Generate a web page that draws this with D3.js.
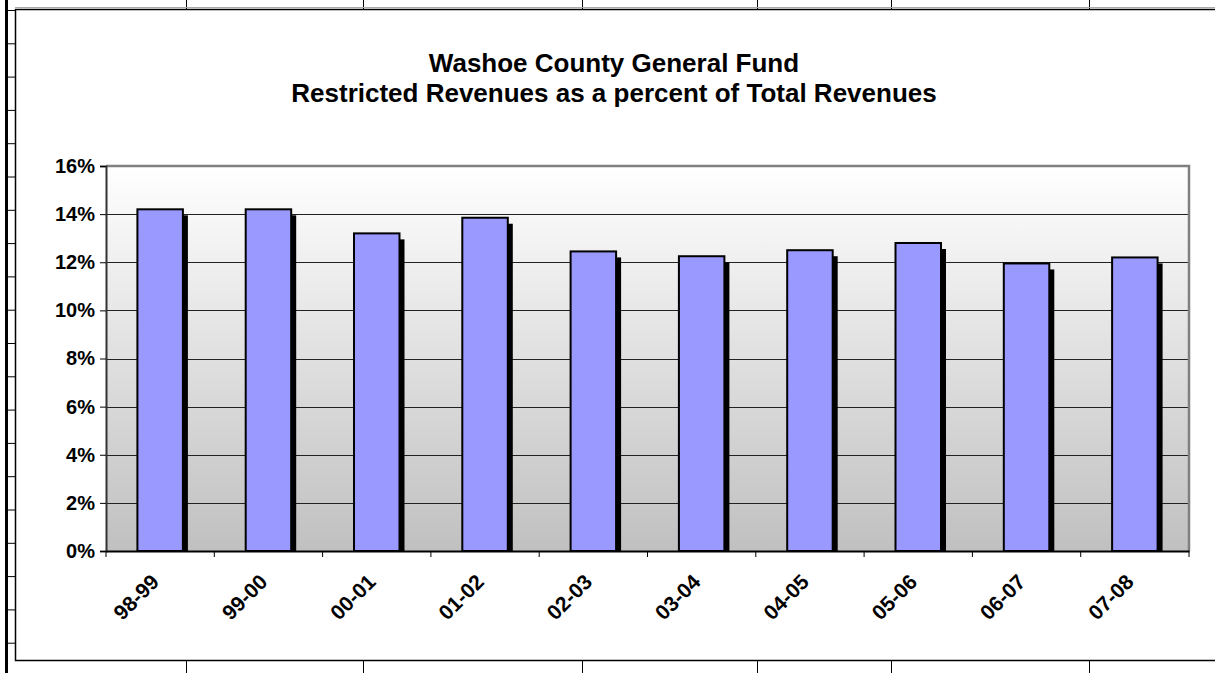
<!DOCTYPE html>
<html>
<head>
<meta charset="utf-8">
<script src="https://cdn.jsdelivr.net/npm/d3@7"></script>
<style>
  body { margin: 0; background: #fff; }
  svg { display: block; font-family: "Liberation Sans", Arial, sans-serif; }
</style>
</head>
<body>
<script>
const categories = ["98-99","99-00","00-01","01-02","02-03","03-04","04-05","05-06","06-07","07-08"]
const values = [14.2, 14.2, 13.2, 13.85, 12.45, 12.25, 12.5, 12.8, 11.95, 12.2]
const yTicks = [0, 2, 4, 6, 8, 10, 12, 14, 16]
const titleLines = ["Washoe County General Fund", "Restricted Revenues as a percent of Total Revenues"]
// spreadsheet column lines peeking above / below the chart object
const sheetCols = [186, 363, 582, 757, 891, 1089]

const W = 1215, H = 673
const plot = {left: 106, top: 166, right: 1189, bottom: 551}

const svg = d3.select("body").append("svg").attr("width", W).attr("height", H)

// --- sheet decorations
const sheet = svg.append("g")
sheet.append("line").attr("x1", 6.5).attr("x2", 6.5).attr("y1", 0).attr("y2", H)
    .attr("stroke", "#000").attr("stroke-width", 3)
sheet.selectAll(".row").data(d3.range(0, 20)).join("line")
    .attr("x1", 8).attr("x2", 15)
    .attr("y1", d => 10.5 + d * 33.3).attr("y2", d => 10.5 + d * 33.3)
    .attr("stroke", "#000")
sheet.selectAll(".colTop").data(sheetCols).join("line")
    .attr("x1", d => d + 0.5).attr("x2", d => d + 0.5).attr("y1", 0).attr("y2", 9)
    .attr("stroke", "#000")
sheet.selectAll(".colBot").data(sheetCols).join("line")
    .attr("x1", d => d + 0.5).attr("x2", d => d + 0.5).attr("y1", 661).attr("y2", H)
    .attr("stroke", "#000")
sheet.append("line").attr("x1", 15).attr("x2", W).attr("y1", 7.5).attr("y2", 7.5)
    .attr("stroke", "#aaa")

// chart object frame
svg.append("rect").attr("x", 15.5).attr("y", 9.5).attr("width", W + 10).attr("height", 651)
    .attr("fill", "#fff").attr("stroke", "#000").attr("stroke-width", 1.5)

// --- title
svg.append("g").selectAll("text").data(titleLines).join("text")
    .attr("x", 614).attr("y", (d, i) => 72 + i * 30)
    .attr("text-anchor", "middle")
    .attr("font-size", 26).attr("font-weight", "bold")
    .text(d => d)

// --- scales
const x = d3.scaleBand().domain(categories).range([plot.left, plot.right])
const y = d3.scaleLinear().domain([0, 16]).range([plot.bottom, plot.top])

// background gradient
const grad = svg.append("defs").append("linearGradient").attr("id", "bg")
    .attr("x1", 0).attr("x2", 0).attr("y1", 0).attr("y2", 1)
grad.append("stop").attr("offset", "0%").attr("stop-color", "#ffffff")
grad.append("stop").attr("offset", "100%").attr("stop-color", "#c0c0c0")

svg.append("rect").attr("x", plot.left).attr("y", plot.top)
    .attr("width", plot.right - plot.left).attr("height", plot.bottom - plot.top)
    .attr("fill", "url(#bg)")

// gridlines
svg.append("g").selectAll("line").data(yTicks.slice(1)).join("line")
    .attr("x1", plot.left).attr("x2", plot.right)
    .attr("y1", d => Math.round(y(d)) + 0.5).attr("y2", d => Math.round(y(d)) + 0.5)
    .attr("stroke", "#222").attr("stroke-width", 1)

// plot border (top/right gray)
svg.append("path")
    .attr("d", `M${plot.left},${plot.top}H${plot.right}V${plot.bottom}`)
    .attr("fill", "none").attr("stroke", "#808080").attr("stroke-width", 2.5)

// --- bars with shadows
const bw = x.bandwidth() * 0.42
const data = categories.map((c, i) => ({c, v: values[i]}))
const bars = svg.append("g")
bars.selectAll(".shadow").data(data).join("rect")
    .attr("x", d => x(d.c) + x.bandwidth() / 2 - bw / 2 + 5)
    .attr("y", d => y(d.v) + 6)
    .attr("width", bw)
    .attr("height", d => plot.bottom - y(d.v) - 6)
    .attr("fill", "#000")
bars.selectAll(".bar").data(data).join("rect")
    .attr("x", d => x(d.c) + x.bandwidth() / 2 - bw / 2)
    .attr("y", d => y(d.v))
    .attr("width", bw)
    .attr("height", d => plot.bottom - y(d.v))
    .attr("fill", "#9999ff").attr("stroke", "#000").attr("stroke-width", 2)

// --- axes
const yAxis = svg.append("g").attr("transform", `translate(${plot.left},0)`)
    .call(d3.axisLeft(y).tickValues(yTicks).tickSize(6).tickFormat(d => d + "%"))
yAxis.select(".domain").attr("stroke", "#333").attr("stroke-width", 2)
yAxis.selectAll("text").attr("font-size", 20).attr("font-weight", "bold")
    .attr("font-family", "Liberation Sans, Arial, sans-serif").attr("fill", "#000").attr("dx", -2)

const xAxis = svg.append("g").attr("transform", `translate(0,${plot.bottom})`)
    .call(d3.axisBottom(x).tickSize(0).tickFormat(""))
xAxis.select(".domain").attr("stroke", "#000").attr("stroke-width", 2)

// category separators
svg.append("g").selectAll("line").data(categories.concat(["end"])).join("line")
    .attr("x1", (d, i) => plot.left + i * x.step()).attr("x2", (d, i) => plot.left + i * x.step())
    .attr("y1", plot.bottom).attr("y2", plot.bottom + 6)
    .attr("stroke", "#000")

svg.append("g").selectAll("text").data(categories).join("text")
    .attr("transform", d => `translate(${x(d) + x.bandwidth() / 2 - 5},${plot.bottom + 27}) rotate(-45)`)
    .attr("text-anchor", "end")
    .attr("dy", "0.35em")
    .attr("font-size", 21).attr("font-weight", "bold")
    .text(d => d)
</script>
</body>
</html>
